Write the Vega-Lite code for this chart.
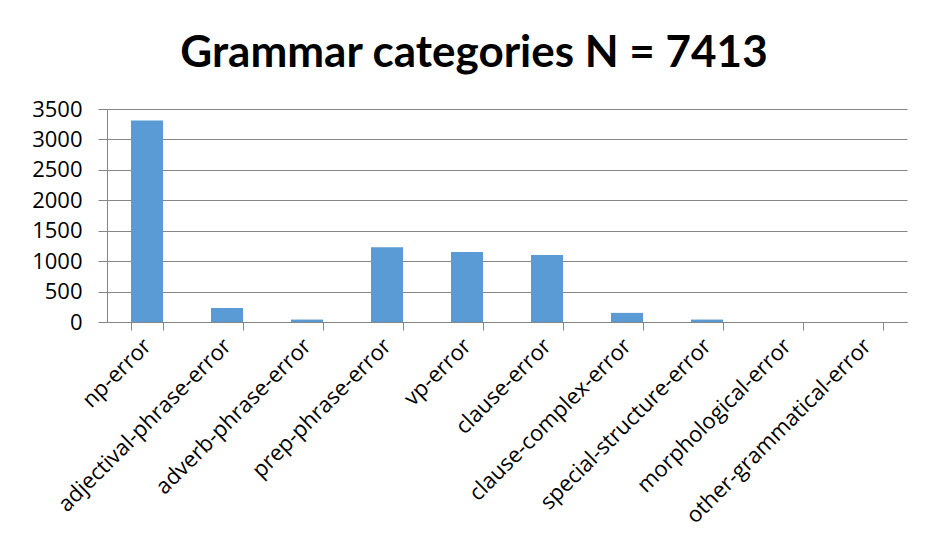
{
  "$schema": "https://vega.github.io/schema/vega-lite/v6.json",
  "autosize": "none",
  "width": 800,
  "height": 213,
  "padding": {"left": 107, "top": 109, "right": 19, "bottom": 212},
  "background": "white",
  "title": {
    "text": "Grammar categories N = 7413",
    "font": "Lato",
    "fontWeight": "bold",
    "fontSize": 44,
    "color": "#000000",
    "anchor": "middle",
    "dx": -33,
    "dy": 52,
    "baseline": "alphabetic",
    "offset": 39
  },
  "data": {
    "values": [
      {"category": "np-error", "count": 3310},
      {"category": "adjectival-phrase-error", "count": 230},
      {"category": "adverb-phrase-error", "count": 40},
      {"category": "prep-phrase-error", "count": 1230},
      {"category": "vp-error", "count": 1150},
      {"category": "clause-error", "count": 1100},
      {"category": "clause-complex-error", "count": 150},
      {"category": "special-structure-error", "count": 40},
      {"category": "morphological-error", "count": 0},
      {"category": "other-grammatical-error", "count": 0}
    ]
  },
  "mark": {"type": "bar", "color": "#5B9BD5"},
  "encoding": {
    "x": {
      "field": "category",
      "type": "nominal",
      "sort": null,
      "scale": {"paddingInner": 0.6, "paddingOuter": 0.3},
      "axis": {
        "title": null,
        "labelAngle": -45,
        "labelAlign": "right",
        "labelBaseline": "middle",
        "labelFont": "Open Sans",
        "labelFontSize": 22,
        "labelColor": "#000000",
        "labelPadding": 12,
        "tickBand": "extent",
        "tickSize": 8,
        "tickColor": "#868686",
        "domainColor": "#868686",
        "grid": false,
        "labelOverlap": false,
        "labelLimit": 400
      }
    },
    "y": {
      "field": "count",
      "type": "quantitative",
      "scale": {"domain": [0, 3500], "nice": false},
      "axis": {
        "title": null,
        "format": "d",
        "values": [0, 500, 1000, 1500, 2000, 2500, 3000, 3500],
        "labelFont": "Open Sans",
        "labelFontSize": 22,
        "labelColor": "#000000",
        "labelPadding": 16,
        "tickSize": 9,
        "tickColor": "#868686",
        "domainColor": "#868686",
        "gridColor": "#868686",
        "grid": true
      }
    }
  },
  "config": {"view": {"stroke": null}}
}
